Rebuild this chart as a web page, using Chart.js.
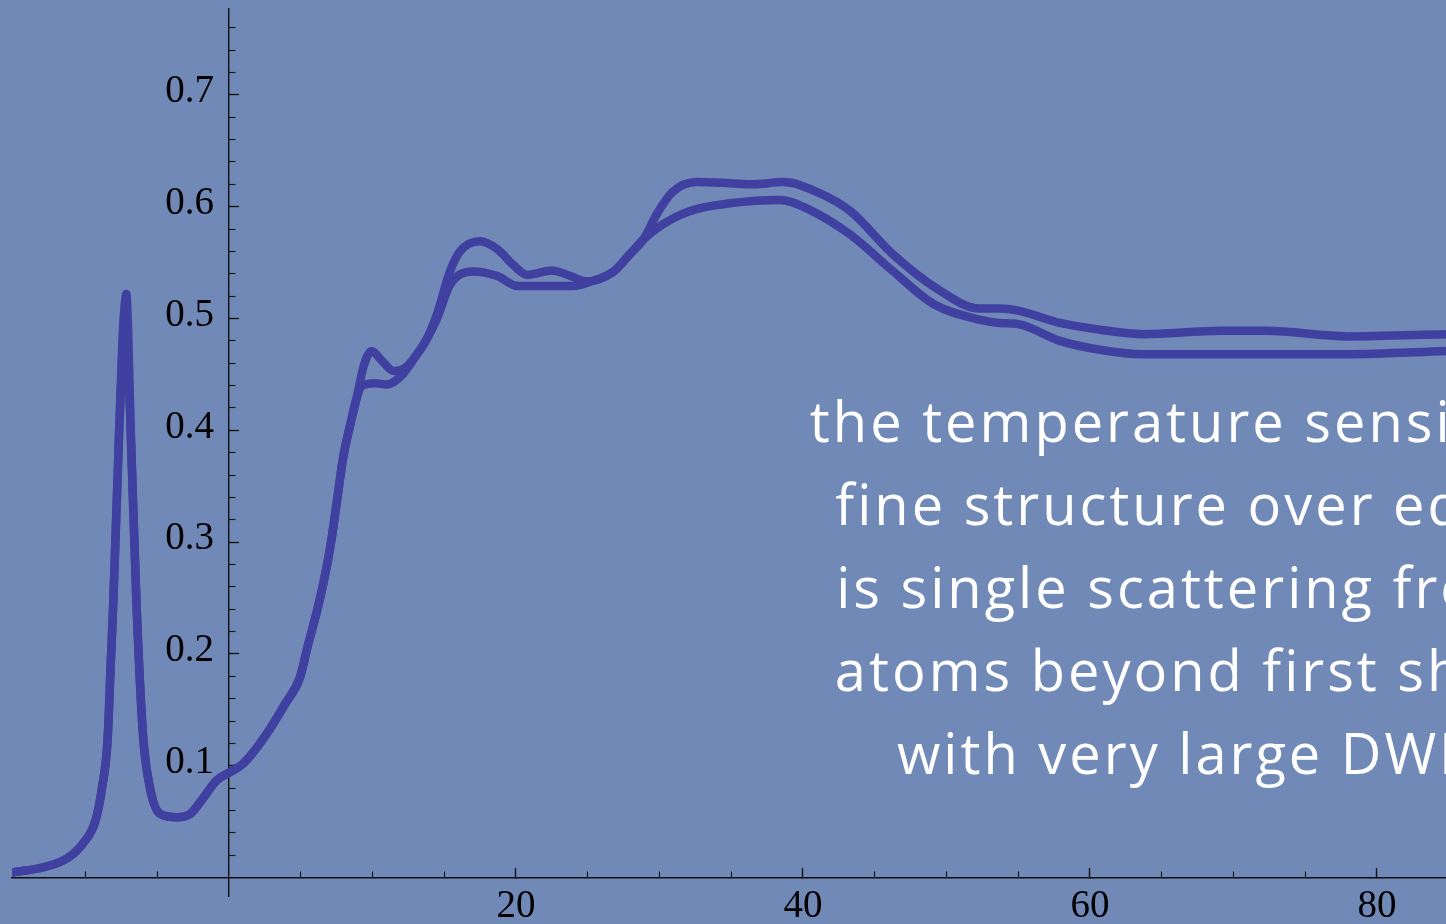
<!DOCTYPE html>
<html>
<head>
<meta charset="utf-8">
<script src="https://cdn.jsdelivr.net/npm/chart.js@4"></script>
<style>
  html, body { margin:0; padding:0; width:1446px; height:924px; overflow:hidden; background:#7189b7; }
  #wrap { position:absolute; left:0; top:0; width:1446px; height:924px; }
  canvas { position:absolute; left:0; top:0; }
  #note { position:absolute; left:684px; top:379px; width:1000px; text-align:center;
          font-family:"Open Sans", sans-serif; font-size:56px; line-height:83px;
          letter-spacing:3px; color:#ffffff; white-space:nowrap; }
</style>
</head>
<body>
<div id="wrap">
<canvas id="c" width="1446" height="924"></canvas>
<div id="note">the temperature sensitive<br>fine structure over edge<br>is single scattering from<br>atoms beyond first shell<br>with very large DWF</div>
</div>
<script>
// ---- data ----
const xUpper = [-15.12,-13.0,-11.3,-10.2,-9.3,-8.85,-8.46,-8.25,-8.05,-7.65,-7.41,-7.28,-7.15,-7.02,-6.85,-6.45,-6.0,-5.5,-4.8,-3.6,-2.7,-1.8,-0.85,0.05,1.0,2.65,3.9,4.95,5.45,6.35,7.05,7.55,7.95,8.45,8.9,9.4,9.95,10.6,11.5,12.3,13.1,13.8,14.5,15.4,16.1,17.5,18.7,19.8,20.8,22.5,23.8,24.9,26.8,27.9,28.9,29.8,30.9,32.6,34.9,36.5,38.6,41.0,43.3,46.3,49.3,52.3,53.7,55.0,57.9,60.7,63.7,69.1,72.3,77.9,84.81];
const yUpper = [0.0045,0.009,0.017,0.030,0.051,0.080,0.123,0.188,0.250,0.400,0.485,0.510,0.522,0.485,0.400,0.247,0.129,0.080,0.057,0.054,0.057,0.071,0.087,0.094,0.102,0.129,0.155,0.179,0.205,0.250,0.295,0.339,0.375,0.405,0.429,0.458,0.471,0.463,0.453,0.456,0.468,0.482,0.504,0.542,0.560,0.569,0.562,0.548,0.539,0.543,0.538,0.533,0.542,0.557,0.571,0.593,0.613,0.622,0.621,0.620,0.622,0.613,0.596,0.557,0.527,0.509,0.509,0.507,0.496,0.490,0.486,0.489,0.489,0.484,0.486];

const xLower = [-15.12,-13.0,-11.3,-10.2,-9.3,-8.85,-8.46,-8.25,-8.05,-7.65,-7.41,-7.3,-7.2,-7.05,-6.85,-6.45,-6.0,-5.5,-4.8,-3.6,-2.7,-1.8,-0.85,0.05,1.0,2.65,3.9,4.95,5.45,6.35,7.05,7.55,7.95,8.45,8.9,9.3,10.2,11.0,12.1,13.0,13.8,14.5,15.4,17.0,18.7,20.1,22.2,24.0,25.2,26.8,27.9,28.9,30.2,32.1,34.9,38.4,40.5,43.3,46.3,49.1,52.3,53.7,55.0,57.9,60.7,63.7,70.9,77.9,84.81];
const yLower = [0.0045,0.009,0.017,0.030,0.051,0.080,0.123,0.188,0.250,0.400,0.475,0.495,0.505,0.470,0.400,0.247,0.129,0.080,0.057,0.054,0.057,0.071,0.087,0.094,0.102,0.129,0.155,0.179,0.205,0.250,0.295,0.339,0.375,0.405,0.429,0.440,0.442,0.441,0.450,0.466,0.482,0.500,0.530,0.542,0.538,0.529,0.529,0.529,0.533,0.542,0.557,0.571,0.584,0.596,0.603,0.606,0.597,0.575,0.542,0.513,0.499,0.496,0.495,0.480,0.472,0.468,0.468,0.468,0.471];

// tick values
const xMajorTicks = [20, 40, 60, 80];
const xMinorTicks = [-15, -10, -5, 5, 10, 15, 20, 25, 30, 35, 40, 45, 50, 55, 60, 65, 70, 75, 80];
const yMajorTicks = [0.1, 0.2, 0.3, 0.4, 0.5, 0.6, 0.7];
const yMinorTicks = [0.02,0.04,0.06,0.08,0.1,0.12,0.14,0.16,0.18,0.2,0.22,0.24,0.26,0.28,0.3,0.32,0.34,0.36,0.38,0.4,0.42,0.44,0.46,0.48,0.5,0.52,0.54,0.56,0.58,0.6,0.62,0.64,0.66,0.68,0.7,0.72,0.74,0.76];
const xRange = [-15.12, 84.81];
const yRange = [-0.0165, 0.7768];

// ---- chart ----
const lineColor = '#4040a0';
const axisColor = '#111111';
const tickFont = { family: '"Liberation Serif", "Times New Roman", serif', size: 39 };

function pts(xs, ys) { return xs.map((x, i) => ({ x: x, y: ys[i] })); }
const setTicks = vals => scale => { scale.ticks = vals.map(v => ({ value: v })); };
const noPad = scale => { scale.paddingLeft = 0; scale.paddingRight = 0; scale.paddingTop = 0; scale.paddingBottom = 0; };

const ds = (xs, ys) => ({
  data: pts(xs, ys),
  borderColor: lineColor,
  borderWidth: 8.5,
  pointRadius: 0,
  fill: false,
  cubicInterpolationMode: 'monotone',
  borderJoinStyle: 'miter',
  borderCapStyle: 'butt',
  xAxisID: 'x',
  yAxisID: 'y'
});

const base = (axis, pos, range, ticksArr) => ({
  type: 'linear', axis: axis, position: pos,
  min: range[0], max: range[1],
  afterBuildTicks: setTicks(ticksArr),
  afterFit: noPad
});

new Chart(document.getElementById('c'), {
  type: 'scatter',
  data: { datasets: [ds(xUpper, yUpper), ds(xLower, yLower)] },
  options: {
    responsive: false,
    animation: false,
    showLine: true,
    layout: { padding: { left: 12, right: 0, top: 9, bottom: 28 } },
    plugins: { legend: { display: false }, tooltip: { enabled: false } },
    scales: {
      x: Object.assign(base('x', { y: 0 }, xRange, xMajorTicks), {
        border: { display: true, color: axisColor, width: 1.4 },
        grid: { display: true, drawOnChartArea: false, drawTicks: true, tickLength: -10.5, tickColor: axisColor, tickWidth: 1.3 },
        ticks: { autoSkip: false, maxRotation: 0, font: tickFont, color: '#000', padding: 16,
                 callback: v => String(Math.round(v)) }
      }),
      xm: Object.assign(base('x', { y: 0 }, xRange, xMinorTicks), {
        border: { display: false },
        grid: { display: true, drawOnChartArea: false, drawTicks: true, tickLength: -6.5, tickColor: axisColor, tickWidth: 1.1 },
        ticks: { autoSkip: false, maxRotation: 0, callback: () => '' }
      }),
      y: Object.assign(base('y', { x: 0 }, yRange, yMajorTicks), {
        border: { display: true, color: axisColor, width: 1.4 },
        grid: { display: true, drawOnChartArea: false, drawTicks: true, tickLength: -11, tickColor: axisColor, tickWidth: 1.3 },
        ticks: { autoSkip: false, callback: () => '' }
      }),
      ym: Object.assign(base('y', { x: 0 }, yRange, yMinorTicks), {
        border: { display: false },
        grid: { display: true, drawOnChartArea: false, drawTicks: true, tickLength: -6.5, tickColor: axisColor, tickWidth: 1.1 },
        ticks: { autoSkip: false, callback: () => '' }
      }),
      yl: Object.assign(base('y', { x: -1.05 }, yRange, yMajorTicks), {
        border: { display: false },
        grid: { display: false, drawTicks: false },
        ticks: { autoSkip: false, font: tickFont, color: '#000', labelOffset: -3,
                 callback: v => v.toFixed(1) }
      })
    }
  }
});
</script>
</body>
</html>
